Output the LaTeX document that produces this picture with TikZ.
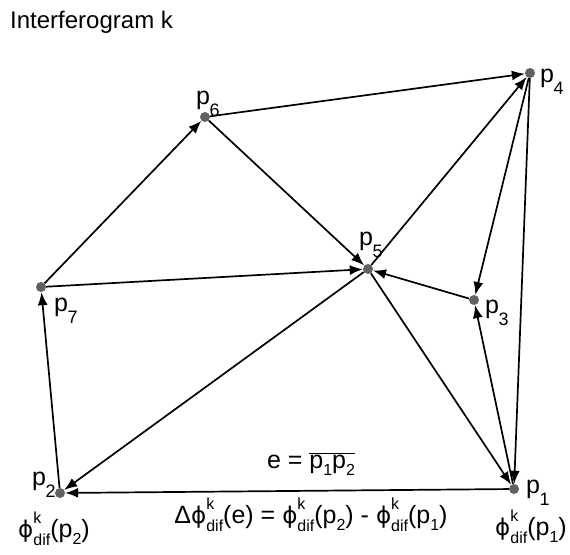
\documentclass[tikz,border=0pt]{standalone}
\usepackage{fontspec}
\setmainfont{Liberation Sans}
\newfontfamily\djv[Scale=0.92]{DejaVu Sans}
\usetikzlibrary{arrows.meta}
\newcommand\fs[1]{\fontsize{#1}{#1}\selectfont}
\newcommand\plab[1]{p\kern-0.5pt\raisebox{-12pt}{\fs{18}#1}}
\newcommand\psub[1]{p\raisebox{-7pt}{\fs{16}#1}}
\newcommand\phik{{\djv ϕ}\mbox{\rlap{\raisebox{14pt}{\fs{16}k}}\raisebox{-8pt}{\fs{16}dif}}}
\begin{document}
\begin{tikzpicture}[x=1pt,y=-1pt,
  pt/.style={circle,fill=black!62,inner sep=0pt,minimum size=10pt},
  lab/.style={anchor=base west,inner sep=0pt,font=\fs{25}},
  arr/.style={line width=1.7pt,-{Latex[length=13pt,width=10pt]}}]
\useasboundingbox (0,0) rectangle (570,554);
\node[anchor=base west,inner sep=0pt,font=\fs{24}] (title) at (10,28) {Interferogram k};
\node[pt] (p1) at (514,489) {};
\node[pt] (p2) at (60,493) {};
\node[pt] (p3) at (474,300) {};
\node[pt] (p4) at (530,73) {};
\node[pt] (p5) at (368,269) {};
\node[pt] (p6) at (205,117) {};
\node[pt] (p7) at (41,287) {};
\node[lab] (l1) at (526,493) {\plab{1}};
\node[lab] (l2) at (32,485) {\plab{2}};
\node[lab] (l3) at (485,313) {\plab{3}};
\node[lab] (l4) at (540,82) {\plab{4}};
\node[lab] (l5) at (359,245) {\plab{5}};
\node[lab] (l6) at (196,104) {\plab{6}};
\node[lab] (l7) at (54,311) {\plab{7}};
\draw[arr] (p7) -- (p6);
\draw[arr] (p6) -- (p4);
\draw[arr] (p6) -- (p5);
\draw[arr] (p7) -- (p5);
\draw[arr] (p3) -- (p5);
\draw[arr] (p5) -- (p4);
\draw[arr] (p5) -- (p1);
\draw[arr] (p5) -- (p2);
\draw[arr] (p4) -- (p3);
\draw[arr] (p4) -- (p1);
\draw[arr] (p1) -- (p3);
\draw[arr] (p1) -- (p2);
\draw[arr] (p2) -- (p7);
\node[anchor=base,inner sep=0pt,font=\fs{25}] (e) at (311,468) {e = $\overline{\hbox{\psub{1}\psub{2}}}$};
\node[anchor=base,inner sep=0pt,font=\fs{25}] (d) at (311,523) {Δ\phik(e) = \phik(\psub{2}) - \phik(\psub{1})};
\node[anchor=base,inner sep=0pt,font=\fs{25}] (f1) at (531,535) {\phik(\psub{1})};
\node[anchor=base,inner sep=0pt,font=\fs{25}] (f2) at (54,537) {\phik(\psub{2})};
\end{tikzpicture}
\end{document}
